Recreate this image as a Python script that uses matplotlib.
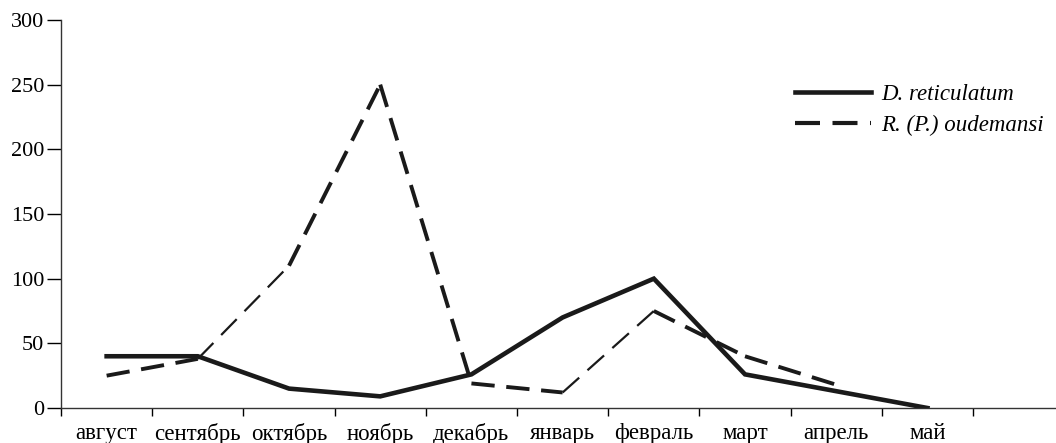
import matplotlib.pyplot as plt
from matplotlib.lines import Line2D

plt.rcParams['font.family'] = ['Liberation Serif', 'DejaVu Serif']

months = ['август', 'сентябрь', 'октябрь', 'ноябрь', 'декабрь',
          'январь', 'февраль', 'март', 'апрель', 'май']
d_reticulatum = [40, 40, 15, 9, 26, 70, 100, 26, 13, 0]
r_oudemansi = [25, 38, 110, 250, 19, 12, 75, 40, 18]
# scan shows some dashed segments printed thinner than others
r_seg_width = [2.8, 1.6, 2.8, 2.8, 2.8, 1.6, 2.8, 2.8]

fig = plt.figure(figsize=(10.56, 4.43), dpi=100)
ax = fig.add_axes([0.0578, 0.079, 0.9422, 0.876])

x = list(range(len(months)))
ax.plot(x, d_reticulatum, color='#1a1a1a', lw=3.3, solid_joinstyle='miter')

for i, w in enumerate(r_seg_width):
    dash = (6, 3) if w > 2 else (10, 5)
    ax.plot(x[i:i + 2], r_oudemansi[i:i + 2], color='#1a1a1a', lw=w,
            linestyle=(0, dash), dash_capstyle='butt')

ax.set_xlim(-0.5, 10.41)
ax.set_ylim(0, 300)
ax.set_yticks(range(0, 301, 50))
ax.set_xticks([k - 0.5 for k in range(11)])
ax.set_xticklabels([])
ax.set_xticks(x, months, minor=True)
ax.tick_params(axis='x', which='minor', length=0, pad=10.5, labelsize=16.5)
ax.tick_params(axis='x', which='major', length=6, width=1, direction='out')
ax.tick_params(axis='y', length=10, width=1, direction='out', labelsize=16, pad=2)

for s in ['top', 'right']:
    ax.spines[s].set_visible(False)
for s in ['left', 'bottom']:
    ax.spines[s].set_linewidth(1)
    ax.spines[s].set_color('#333333')

handles = [Line2D([], [], color='#1a1a1a', lw=3.3),
           Line2D([], [], color='#1a1a1a', lw=3, linestyle=(0, (6, 3)))]
ax.legend(handles, ['D. reticulatum', 'R. (P.) oudemansi'],
          loc='upper left', bbox_to_anchor=(0.7377, 0.835), frameon=False,
          borderaxespad=0, borderpad=0,
          handlelength=3.3, handletextpad=0.45, labelspacing=0.45,
          prop={'style': 'italic', 'size': 16.5})

fig.savefig('out.png', dpi=100)
